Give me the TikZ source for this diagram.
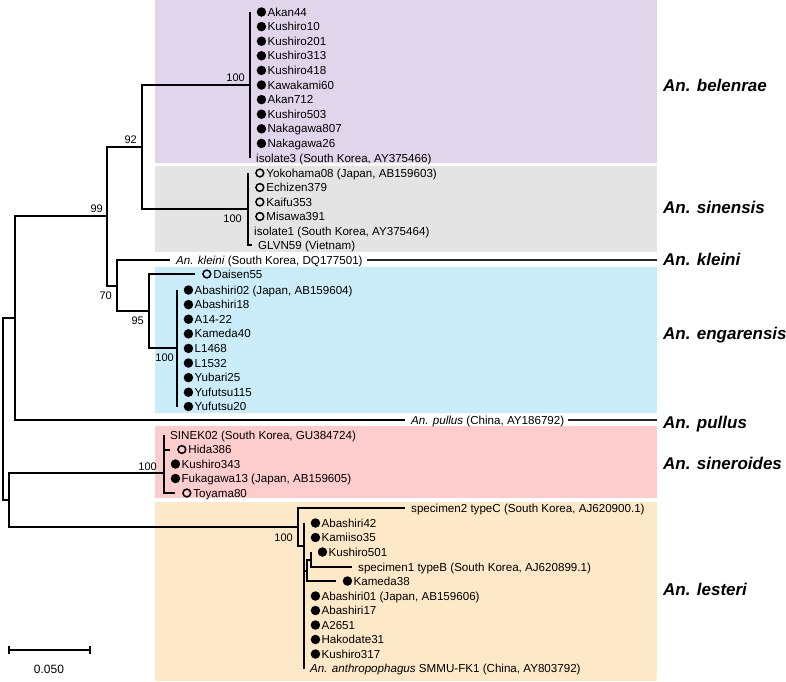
\documentclass[tikz,border=0pt]{standalone}
\usepackage{fontspec}
\setmainfont{Liberation Sans}
\usetikzlibrary{positioning}

\definecolor{belenraebg}{RGB}{225,213,236}
\definecolor{sinensisbg}{RGB}{228,228,228}
\definecolor{engarensisbg}{RGB}{202,237,249}
\definecolor{sineroidesbg}{RGB}{253,204,204}
\definecolor{lesteribg}{RGB}{253,232,200}

% tips: name, x, y, text
\newcommand{\dottip}[4]{\coordinate (#1) at (#2,#3);
  \node[fdot,right=6.5pt of #1] (#1m) {};
  \node[tip,right=1pt of #1m] (#1l) {#4};}
\newcommand{\circtip}[4]{\coordinate (#1) at (#2,#3);
  \node[odot,right=7.2pt of #1] (#1m) {};
  \node[tip,right=1.7pt of #1m] (#1l) {#4};}
\newcommand{\plaintip}[4]{\coordinate (#1) at (#2,#3);
  \node[tip,right=6pt of #1] (#1l) {#4};}

\begin{document}
\begin{tikzpicture}[
                        x=1pt,
                        y=-1pt,
                        line join=miter
                    ]
                    \tikzstyle{branch}=[line width=2pt]
                    \tikzstyle{longbranch}=[line width=1.6pt,black!85]
                    \tikzstyle{tip}=[inner sep=0pt,text height=8.3pt,text depth=0pt,
                                     font=\fontsize{11.6}{13}\selectfont]
                    \tikzstyle{boot}=[inner sep=0pt,text height=7.9pt,text depth=0pt,
                                      font=\fontsize{11}{13}\selectfont]
                    \tikzstyle{fdot}=[circle,fill=black,inner sep=0pt,minimum size=9.5pt]
                    \tikzstyle{odot}=[circle,draw=black,line width=1.5pt,inner sep=0pt,minimum size=7.8pt]
                    \tikzstyle{species}=[anchor=west,inner sep=0pt,text height=12.2pt,text depth=0pt,
                                         font=\fontsize{17}{20}\selectfont\bfseries\itshape]

                    \useasboundingbox (0,0) rectangle (786,681);

                    % clade boxes
                    \fill[belenraebg]   (155,0)   rectangle (657,163);
                    \fill[sinensisbg]   (155,166) rectangle (657,252);
                    \fill[engarensisbg] (155,267) rectangle (657,413);
                    \fill[sineroidesbg] (155,426) rectangle (657,498);
                    \fill[lesteribg]    (155,502) rectangle (657,681);

                    % inner nodes
                    \coordinate (root)   at (3,409);
                    \coordinate (nA)     at (15,318);
                    \coordinate (nB)     at (9,500);
                    \coordinate (n99)    at (107,216);
                    \coordinate (n92)    at (142,147);
                    \coordinate (n70)    at (117,285.5);
                    \coordinate (n95)    at (149,311);
                    \coordinate (nbel)   at (250,85);
                    \coordinate (nsinen) at (248,209);
                    \coordinate (neng)   at (177,348);
                    \coordinate (nsin)   at (164,473);
                    \coordinate (nles)   at (298,527);
                    \coordinate (s1)     at (304,546);
                    \coordinate (n1)     at (307,571);
                    \coordinate (n2)     at (311,559.5);

                    % An. belenrae
                    \dottip{akan44}{250}{12}{Akan44}
                    \dottip{kushiro10}{250}{26.6}{Kushiro10}
                    \dottip{kushiro201}{250}{41.2}{Kushiro201}
                    \dottip{kushiro313}{250}{55.8}{Kushiro313}
                    \dottip{kushiro418}{250}{70.4}{Kushiro418}
                    \dottip{kawakami60}{250}{85}{Kawakami60}
                    \dottip{akan712}{250}{99.6}{Akan712}
                    \dottip{kushiro503}{250}{114.2}{Kushiro503}
                    \dottip{nakagawa807}{250}{128.8}{Nakagawa807}
                    \dottip{nakagawa26}{250}{143.4}{Nakagawa26}
                    \plaintip{isolate3}{250}{158}{isolate3 (South Korea, AY375466)}

                    % An. sinensis
                    \circtip{yokohama08}{248}{173}{Yokohama08 (Japan, AB159603)}
                    \circtip{echizen379}{248}{187.5}{Echizen379}
                    \circtip{kaifu353}{248}{202}{Kaifu353}
                    \circtip{misawa391}{248}{216.5}{Misawa391}
                    \plaintip{isolate1}{248}{231}{isolate1 (South Korea, AY375464)}
                    \plaintip{glvn59}{252}{245}{GLVN59 (Vietnam)}

                    % An. kleini
                    \plaintip{kleini}{170}{260}{\textit{An. kleini} (South Korea, DQ177501)}

                    % An. engarensis
                    \circtip{daisen55}{195}{274}{Daisen55}
                    \dottip{abashiri02}{177}{290}{Abashiri02 (Japan, AB159604)}
                    \dottip{abashiri18}{177}{304.6}{Abashiri18}
                    \dottip{a14-22}{177}{319.2}{A14-22}
                    \dottip{kameda40}{177}{333.8}{Kameda40}
                    \dottip{l1468}{177}{348.4}{L1468}
                    \dottip{l1532}{177}{363}{L1532}
                    \dottip{yubari25}{177}{377.6}{Yubari25}
                    \dottip{yufutsu115}{177}{392.2}{Yufutsu115}
                    \dottip{yufutsu20}{177}{406.5}{Yufutsu20}

                    % An. pullus
                    \plaintip{pullus}{405}{420}{\textit{An. pullus} (China, AY186792)}

                    % An. sineroides
                    \plaintip{sinek02}{164}{435}{SINEK02 (South Korea, GU384724)}
                    \circtip{hida386}{170}{449.5}{Hida386}
                    \dottip{kushiro343}{164}{464}{Kushiro343}
                    \dottip{fukagawa13}{164}{478.5}{Fukagawa13 (Japan, AB159605)}
                    \circtip{toyama80}{175}{493}{Toyama80}

                    % An. lesteri
                    \plaintip{specimen2}{405}{508}{specimen2 typeC (South Korea, AJ620900.1)}
                    \dottip{abashiri42}{304}{523}{Abashiri42}
                    \dottip{kamiiso35}{304}{537.5}{Kamiiso35}
                    \dottip{kushiro501}{311}{552}{Kushiro501}
                    \plaintip{specimen1}{352}{567}{specimen1 typeB (South Korea, AJ620899.1)}
                    \dottip{kameda38}{336}{581}{Kameda38}
                    \dottip{abashiri01}{304}{596}{Abashiri01 (Japan, AB159606)}
                    \dottip{abashiri17}{304}{610.5}{Abashiri17}
                    \dottip{a2651}{304}{625}{A2651}
                    \dottip{hakodate31}{304}{639.5}{Hakodate31}
                    \dottip{kushiro317}{304}{654}{Kushiro317}
                    \plaintip{anthropophagus}{304}{668.5}{\textit{An. anthropophagus} SMMU-FK1 (China, AY803792)}

                    % branches
                    \draw[branch] (root) |- (nA)  (root) |- (nB);
                    \draw[branch] (nA) |- (n99)   (nA) |- (pullus);
                    \draw[branch] (n99) |- (n92)  (n99) |- (n70);
                    \draw[branch] (n92) |- (nbel) (n92) |- (nsinen);
                    \draw[branch] (n70) |- (kleini) (n70) |- (n95);
                    \draw[branch] (n95) |- (daisen55) (n95) |- (neng);
                    \draw[branch] (nB) |- (nsin)  (nB) |- (nles);
                    \draw[branch] (nles) |- (specimen2) (nles) |- (s1);
                    \draw[branch] (n1) |- (n2)    (n1) |- (kameda38);
                    \draw[branch] (n2) |- (kushiro501) (n2) |- (specimen1);
                    \foreach \t in {akan44,kushiro10,kushiro201,kushiro313,kushiro418,kawakami60,
                                    akan712,kushiro503,nakagawa807,nakagawa26,isolate3}
                        \draw[branch] (nbel) |- (\t);
                    \foreach \t in {yokohama08,echizen379,kaifu353,misawa391,isolate1,glvn59}
                        \draw[branch] (nsinen) |- (\t);
                    \foreach \t in {abashiri02,abashiri18,a14-22,kameda40,l1468,l1532,
                                    yubari25,yufutsu115,yufutsu20}
                        \draw[branch] (neng) |- (\t);
                    \foreach \t in {sinek02,hida386,kushiro343,fukagawa13,toyama80}
                        \draw[branch] (nsin) |- (\t);
                    \foreach \t in {abashiri42,kamiiso35,n1,abashiri01,abashiri17,a2651,
                                    hakodate31,kushiro317,anthropophagus}
                        \draw[branch] (s1) |- (\t);

                    % long lines on to the species names
                    \coordinate (kleini-end) at (657,260);
                    \coordinate (pullus-end) at (657,420);
                    \draw[longbranch] ([xshift=4pt]kleinil.east) -- (kleini-end);
                    \draw[longbranch] ([xshift=4pt]pullusl.east) -- (pullus-end);

                    % bootstrap values
                    \node[boot,above left=3pt and 4pt of n99]   (b99)   {99};
                    \node[boot,above left=3pt and 5pt of n92]   (b92)   {92};
                    \node[boot,above left=3pt and 5pt of nbel]  (bbel)  {100};
                    \node[boot,below left=5pt and 6pt of nsinen] (bsinen) {100};
                    \node[boot,below left=5.5pt and 5pt of n70] (b70)   {70};
                    \node[boot,below left=5pt and 5pt of n95]   (b95)   {95};
                    \node[boot,below left=5pt and 3pt of neng]  (beng)  {100};
                    \node[boot,above left=2pt and 7pt of nsin]  (bsin)  {100};
                    \node[boot,below left=6pt and 5pt of nles]  (bles)  {100};

                    % species names
                    \node[species] (sp-belenrae)   at (663,85)  {An. belenrae};
                    \node[species] (sp-sinensis)   at (663,207) {An. sinensis};
                    \node[species] (sp-kleini)     at (663,259) {An. kleini};
                    \node[species] (sp-engarensis) at (663,333) {An. engarensis};
                    \node[species] (sp-pullus)     at (663,422) {An. pullus};
                    \node[species] (sp-sineroides) at (663,463) {An. sineroides};
                    \node[species] (sp-lesteri)    at (663,589) {An. lesteri};

                    % scale bar
                    \coordinate (sb-l) at (9,650);
                    \coordinate (sb-r) at (90,650);
                    \draw[line width=1.6pt] (sb-l) -- (sb-r);
                    \draw[line width=1.3pt] (sb-l) ++(0,-4) -- ++(0,8);
                    \draw[line width=1.3pt] (sb-r) ++(0,-4) -- ++(0,8);
                    \node[font=\fontsize{12}{14}\selectfont] (sb-lab) at (49,669) {0.050};

                \end{tikzpicture}
\end{document}
